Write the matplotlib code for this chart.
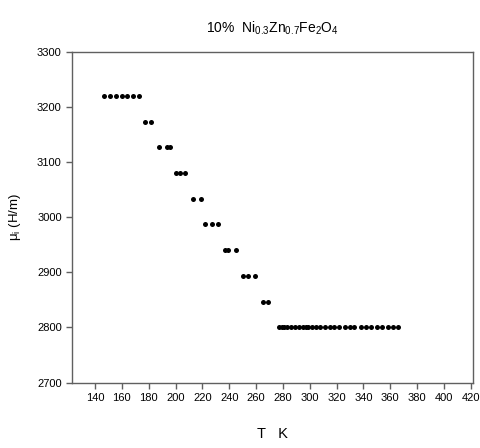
import matplotlib
matplotlib.use("Agg")
import matplotlib.pyplot as plt

plt.rcParams['font.family'] = ['Liberation Sans', 'DejaVu Sans']
plt.rcParams['mathtext.fontset'] = 'custom'
plt.rcParams['mathtext.rm'] = 'Liberation Sans'
plt.rcParams['mathtext.it'] = 'Liberation Sans'
plt.rcParams['mathtext.bf'] = 'Liberation Sans:bold'

# Temperature (K) and initial permeability (H/m) readings
temperature = [147, 151, 156, 160, 164, 168, 173,
               177, 182,
               188, 194, 196,
               200, 203, 207,
               213, 219,
               222, 227, 232,
               237, 239, 245,
               250, 254, 259,
               265, 269,
               277, 279, 281, 283, 286, 289, 292, 295, 297, 299, 302, 305,
               308, 311, 315, 318, 322, 326, 330, 333, 338, 342, 346, 350,
               354, 358, 362, 366]
permeability = ([3220] * 7 + [3173] * 2 + [3127] * 3 + [3080] * 3 +
                [3033] * 2 + [2987] * 3 + [2940] * 3 + [2893] * 3 +
                [2847] * 2 + [2800] * 28)

x_ticks = list(range(140, 421, 20))
y_ticks = list(range(2700, 3301, 100))

fig = plt.figure(figsize=(4.81, 4.48), dpi=100)
ax = fig.add_axes([0.150, 0.146, 0.833, 0.738])

ax.plot(temperature, permeability, 'o', color='black', markersize=3.6,
        markeredgewidth=0)

ax.set_xlim(123, 421.5)
ax.set_ylim(2700, 3300)
ax.set_xticks(x_ticks)
ax.set_yticks(y_ticks)

spine_color = '#606060'
for s in ax.spines.values():
    s.set_color(spine_color)
    s.set_linewidth(1.0)
ax.tick_params(direction='out', length=4, width=1.0, color=spine_color,
               labelsize=8, labelcolor='black', top=False, right=False)

ax.set_title(r'10%  Ni$_{0.3}$Zn$_{0.7}$Fe$_2$O$_4$', fontsize=10, pad=14)
ax.set_xlabel('T   K', fontsize=10.5, labelpad=17)
ax.set_ylabel(r'μ$_{\mathrm{i}}$ (H/m)', fontsize=9.5, labelpad=10)

fig.savefig('out.png', dpi=100)
